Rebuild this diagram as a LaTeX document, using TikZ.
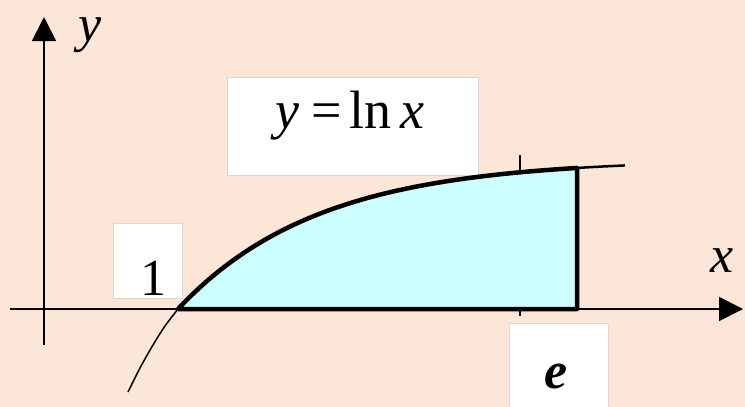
\documentclass[tikz,border=0pt]{standalone}
\usepackage{fontspec}
\setmainfont{Liberation Serif}
\usepackage{xcolor}
\usepackage{tikz}
\usetikzlibrary{arrows.meta, positioning}
\definecolor{peachbg}{RGB}{252, 230, 215}
\definecolor{areacyan}{RGB}{204, 255, 255}
\definecolor{boxgray}{RGB}{222, 214, 208}

\begin{document}
\begin{tikzpicture}[x=1pt, y=-1pt,
        labelbox/.style={rectangle, draw=boxgray, fill=white, line width=1pt, inner sep=0pt},
        mathtext/.style={font=\fontsize{52}{58}\selectfont, inner sep=0pt, anchor=base},
        axis/.style={-{Triangle[length=24pt, width=24pt]}, line width=1.8pt},
        curve/.style={line width=4.5pt, line join=round},
        declare function={lncurve(\t)=309-149.7*(1-exp(-(\t-178)/140));}
    ]
        \fill[peachbg] (0,0) rectangle (745,407);
        \useasboundingbox (0,0) rectangle (745,407);

        \node[labelbox, minimum width=251pt, minimum height=98pt] (fbox) at (352.5,126) {};
        \node[labelbox, minimum width=69pt, minimum height=75pt] (onebox) at (147.5,260.5) {};
        \node[labelbox, minimum width=99pt, minimum height=92pt] (ebox) at (558.5,369) {};

        \coordinate (one) at (178,309);
        \coordinate (etop) at (577,{lncurve(577)});
        \coordinate (ebase) at (577,309);

        \draw[axis] (10,309) -- (743,309);
        \draw[axis] (44,345) -- (44,17);

        \fill[areacyan] plot[domain=178:577, samples=60] (\x,{lncurve(\x)}) -- (ebase) -- cycle;
        \draw[line width=1.5pt] plot[smooth] coordinates {(128,392) (140,368) (153,345) (165,326) (178,309)};
        \draw[line width=2.5pt] plot[domain=520:625, samples=20] (\x,{lncurve(\x)});
        \draw[line width=1.5pt] (520,155) -- (520,{lncurve(520)});
        \draw[line width=1.5pt] (520,309) -- (520,316);
        \draw[curve] plot[domain=178:577, samples=60] (\x,{lncurve(\x)}) -- (ebase) -- (one);

        \node[mathtext, font=\fontsize{54}{60}\selectfont] (flabel) at (350,128) {\textit{y}\hspace{12pt}=\hspace{7pt}ln\hspace{9pt}\textit{x}};
        \node[mathtext] (onelabel) at (153,295) {1};
        \node[mathtext, font=\fontsize{52}{58}\selectfont\bfseries\itshape] (elabel) at (556,388) {e};
        \node[mathtext] (xlabel) at (722,272) {\textit{x}};
        \node[mathtext] (ylabel) at (90,41) {\textit{y}};
    \end{tikzpicture}
\end{document}
